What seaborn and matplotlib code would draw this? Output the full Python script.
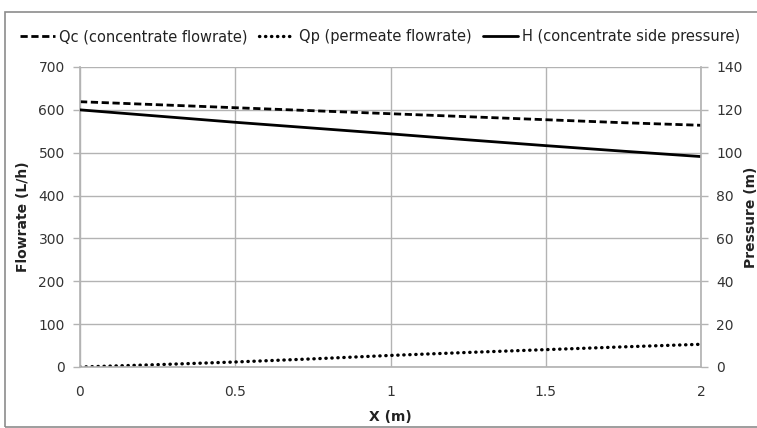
import matplotlib
matplotlib.use("Agg")
import matplotlib.pyplot as plt
import seaborn as sns
import pandas as pd
from matplotlib.patches import Rectangle

x_m = [0, 0.25, 0.5, 0.75, 1.0, 1.25, 1.5, 1.75, 2.0]
qc_flow = [619, 612, 605, 598, 591, 584, 577, 570, 564]
qp_flow = [0, 5.5, 11.7, 19, 27, 34, 40.5, 47, 53]
h_pressure = [120, 117.1, 114.2, 111.5, 108.8, 106.0, 103.3, 100.7, 98.2]

x_ticks = [0, 0.5, 1, 1.5, 2]
x_tick_labels = ["0", "0.5", "1", "1.5", "2"]
left_ticks = [0, 100, 200, 300, 400, 500, 600, 700]
right_ticks = [0, 20, 40, 60, 80, 100, 120, 140]

df = pd.DataFrame({"x": x_m, "Qc": qc_flow, "Qp": qp_flow, "H": h_pressure})

sns.set_theme(style="white")
plt.rcParams["font.family"] = ["DejaVu Sans"]

fig = plt.figure(figsize=(7.57, 4.28), dpi=100)
ax = fig.add_axes([80/757, 1-367/428, (701-80)/757, 300/428])
ax2 = ax.twinx()

tick_color = "#333333"
grid_color = "#b3b3b3"
lw = 2.0

sns.lineplot(data=df, x="x", y="Qc", ax=ax, color="black", linewidth=lw,
             label="Qc (concentrate flowrate)", legend=False)
sns.lineplot(data=df, x="x", y="Qp", ax=ax, color="black", linewidth=lw,
             label="Qp (permeate flowrate)", legend=False)
sns.lineplot(data=df, x="x", y="H", ax=ax2, color="black", linewidth=lw,
             label="H (concentrate side pressure)", legend=False)

l_qc, l_qp = ax.get_lines()[0], ax.get_lines()[1]
l_qc.set_linestyle((0, (2.6, 1.3)))
l_qp.set_linestyle((0, (0.1, 1.7)))
l_qp.set_dash_capstyle("round")
l_qp.set_linewidth(2.4)
l_h = ax2.get_lines()[0]

ax.set_xlim(0, 2)
ax.set_ylim(0, 700)
ax2.set_ylim(0, 140)
ax.set_xticks(x_ticks)
ax.set_xticklabels(x_tick_labels)
ax.set_yticks(left_ticks)
ax2.set_yticks(right_ticks)

ax.grid(True, color=grid_color, linewidth=1.0)
ax.set_axisbelow(True)

for a in (ax, ax2):
    for s in a.spines.values():
        s.set_visible(False)
    a.tick_params(axis="both", colors=grid_color, labelcolor=tick_color,
                  labelsize=10, length=5, width=1, direction="out", pad=6)
ax.spines["left"].set_visible(True)
ax.spines["left"].set_color(grid_color)
ax.spines["bottom"].set_visible(True)
ax.spines["bottom"].set_color(grid_color)
ax2.spines["right"].set_visible(True)
ax2.spines["right"].set_color(grid_color)
ax.tick_params(axis="x", pad=8)

ax.set_xlabel("X (m)", fontsize=10, fontweight="bold", color="#222222", labelpad=8)
ax.set_ylabel("Flowrate (L/h)", fontsize=10, fontweight="bold", color="#222222", labelpad=6)
ax2.set_ylabel("Pressure (m)", fontsize=10, fontweight="bold", color="#222222", labelpad=1)

fig.legend(handles=[l_qc, l_qp, l_h],
           labels=["Qc (concentrate flowrate)", "Qp (permeate flowrate)",
                   "H (concentrate side pressure)"],
           loc="center left", bbox_to_anchor=(14/757, 1-37/428), ncol=3,
           frameon=False, fontsize=10.5, handlelength=2.4, handletextpad=0.3,
           columnspacing=0.8, borderaxespad=0, labelcolor="#222222")

fig.patches.append(Rectangle((5/757, 0.002), 1.0, 1-12/428-0.002,
                             transform=fig.transFigure, fill=False,
                             edgecolor="#8c8c8c", linewidth=1.2))

fig.savefig("out.png", dpi=100)
